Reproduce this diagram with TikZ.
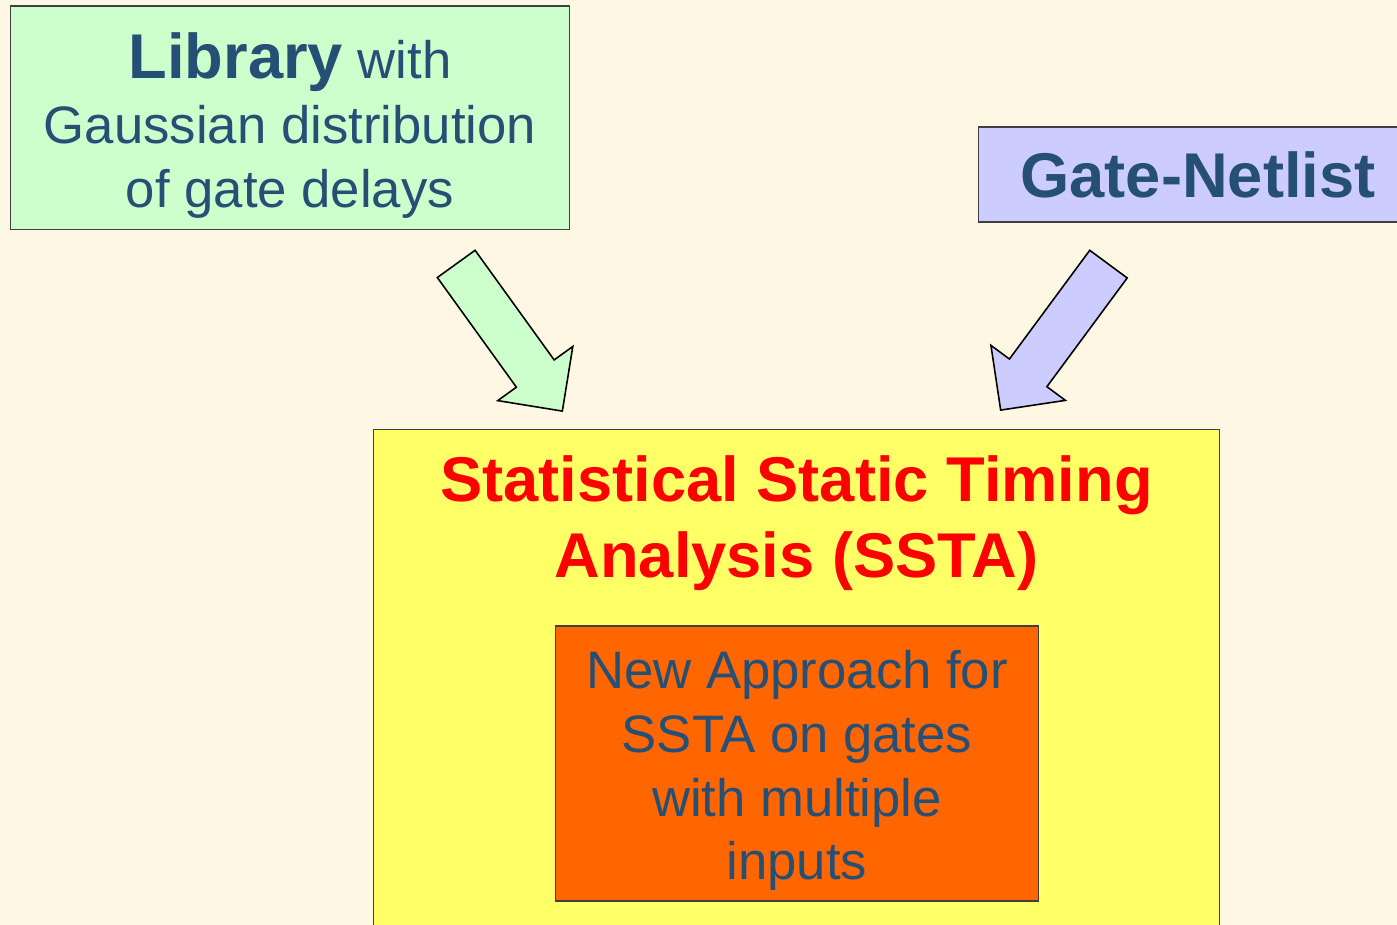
\documentclass[tikz,border=0pt]{standalone}
\usepackage{fontspec}
\setmainfont{Liberation Sans}
\usetikzlibrary{positioning,shapes.arrows}
\definecolor{bgcream}{RGB}{253,247,227}
\definecolor{textblue}{RGB}{38,79,118}
\definecolor{libgreen}{RGB}{204,255,204}
\definecolor{netblue}{RGB}{204,204,255}
\definecolor{sstayellow}{RGB}{255,255,102}
\definecolor{newOrange}{RGB}{255,102,0}
\definecolor{titlered}{RGB}{255,0,0}
\tikzset{
    mybox/.style={rectangle, draw=black!75, line width=0.6pt, inner sep=0pt, align=center, text=textblue},
    myarrow/.style={single arrow, draw=black, line width=0.9pt, inner ysep=0.45cm, inner xsep=0pt, single arrow head extend=0.46cm, minimum height=3.63cm, anchor=tip},
    bodyfont/.style={font=\fontsize{30pt}{36.8pt}\selectfont},
    bigfont/.style={font=\fontsize{36pt}{43pt}\selectfont\bfseries}
}
\begin{document}
\begin{tikzpicture}[x=0.02cm, y=-0.02cm]
    \clip (0,0) rectangle (1397,925);
    \fill[bgcream] (0,0) rectangle (1397,925);
    % inputs
    \node[mybox, fill=libgreen, minimum width=11.2cm, minimum height=4.48cm, bodyfont] (library) at (290,118)
        {\rule{0pt}{35pt}{\fontsize{36pt}{36pt}\selectfont\bfseries Library} with\\Gaussian distribution\\of gate delays};
    \node[mybox, fill=netblue, minimum width=8.8cm, minimum height=1.9cm, bigfont] (netlist) at (1198,174.5) {Gate-Netlist};
    % big arrows, placed by their tips
    \node[myarrow, fill=libgreen, rotate=-54.2] (libarrow) at (563,412) {};
    \node[myarrow, fill=netblue, rotate=-126.45] (netarrow) at (1000,411) {};
    % ssta block
    \node[mybox, fill=sstayellow, minimum width=16.94cm, minimum height=10.62cm] (ssta) at (796.5,694.5) {};
    \node[bigfont, text=titlered, align=center, inner sep=0pt, below=0.54cm of ssta.north] (sstatitle)
        {Statistical Static Timing\\Analysis (SSTA)};
    \node[mybox, fill=newOrange, minimum width=9.68cm, minimum height=5.5cm, font=\fontsize{30pt}{36.3pt}\selectfont] (newssta) at (797,763.5)
        {\rule{0pt}{29.8pt}New Approach for\\SSTA on gates\\with multiple\\inputs};
\end{tikzpicture}
\end{document}
